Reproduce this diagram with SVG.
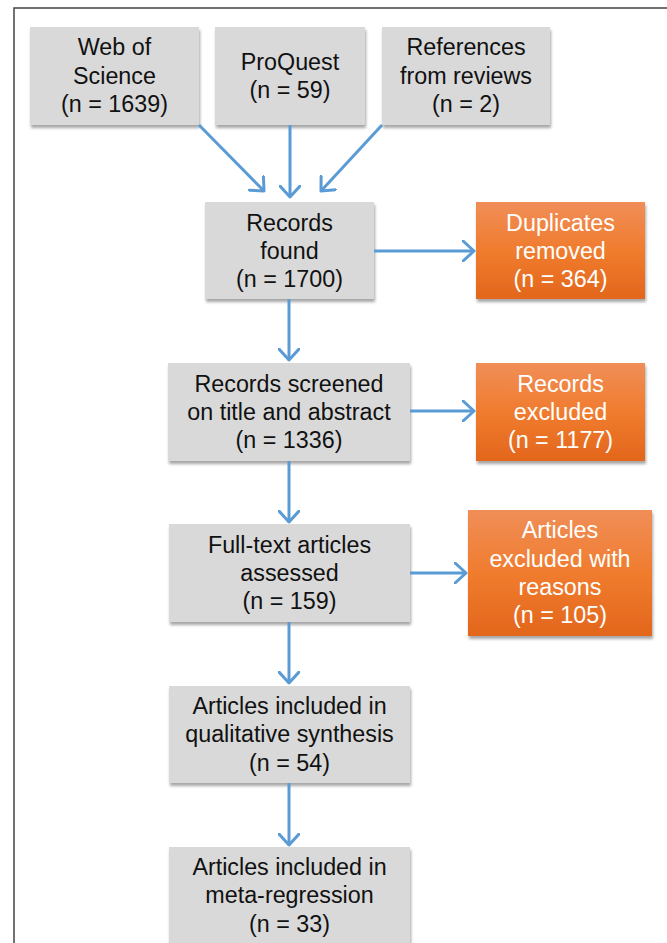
<svg xmlns="http://www.w3.org/2000/svg" width="667" height="943" viewBox="0 0 667 943">
<defs>
<linearGradient id="og" x1="0" y1="0" x2="0" y2="1">
<stop offset="0" stop-color="#f08e58"/>
<stop offset="0.5" stop-color="#f07c2e"/>
<stop offset="1" stop-color="#e3661c"/>
</linearGradient>
<filter id="sh" x="-10%" y="-10%" width="125%" height="130%">
<feDropShadow dx="1" dy="3" stdDeviation="1.5" flood-color="#000" flood-opacity="0.35"/>
</filter>
<marker id="ah" viewBox="0 0 14 22" refX="12" refY="11" markerWidth="14" markerHeight="22" markerUnits="userSpaceOnUse" orient="auto">
<path d="M1,1 L12,11 L1,21" fill="none" stroke="#5b9bd5" stroke-width="3" stroke-linecap="round" stroke-linejoin="round"/>
</marker>
</defs>
<style>
.g{fill:#d9d9d9;filter:url(#sh)}
.o{fill:url(#og);filter:url(#sh)}
text{font-family:"Liberation Sans",Arial,sans-serif;font-size:23.3px;text-anchor:middle}
.k{fill:#111}
.w{fill:#fff}
.c path,.c line{stroke:#5b9bd5;stroke-width:3;fill:none;marker-end:url(#ah)}
</style>
<rect width="667" height="943" fill="#fff"/>
<rect x="14" y="8" width="670" height="960" fill="none" stroke="#444" stroke-width="1.5"/>
<g id="wos"><rect class="g" x="30" y="27" width="169" height="98"/>
<text class="k" x="114.5" y="55">Web of</text><text class="k" x="114.5" y="84">Science</text><text class="k" x="114.5" y="112">(n = 1639)</text></g>
<g id="proquest"><rect class="g" x="215" y="27" width="150" height="98"/>
<text class="k" x="290" y="70">ProQuest</text><text class="k" x="290" y="98">(n = 59)</text></g>
<g id="refs"><rect class="g" x="382" y="27" width="168" height="98"/>
<text class="k" x="466" y="55">References</text><text class="k" x="466" y="84">from reviews</text><text class="k" x="466" y="112">(n = 2)</text></g>
<g id="found"><rect class="g" x="205" y="202" width="169" height="97"/>
<text class="k" x="289.5" y="231">Records</text><text class="k" x="289.5" y="259">found</text><text class="k" x="289.5" y="287">(n = 1700)</text></g>
<g id="dup"><rect class="o" x="476" y="202" width="169" height="97"/>
<text class="w" x="560.5" y="231">Duplicates</text><text class="w" x="560.5" y="259">removed</text><text class="w" x="560.5" y="287">(n = 364)</text></g>
<g id="screened"><rect class="g" x="168" y="363" width="242" height="98"/>
<text class="k" x="289" y="392">Records screened</text><text class="k" x="289" y="420">on title and abstract</text><text class="k" x="289" y="448">(n = 1336)</text></g>
<g id="excluded"><rect class="o" x="476" y="363" width="169" height="98"/>
<text class="w" x="560.5" y="392">Records</text><text class="w" x="560.5" y="420">excluded</text><text class="w" x="560.5" y="448">(n = 1177)</text></g>
<g id="fulltext"><rect class="g" x="169" y="524" width="241" height="98"/>
<text class="k" x="289.5" y="553">Full-text articles</text><text class="k" x="289.5" y="581">assessed</text><text class="k" x="289.5" y="609">(n = 159)</text></g>
<g id="artexcl"><rect class="o" x="468" y="510" width="184" height="126"/>
<text class="w" x="560" y="538">Articles</text><text class="w" x="560" y="567">excluded with</text><text class="w" x="560" y="595">reasons</text><text class="w" x="560" y="623">(n = 105)</text></g>
<g id="qual"><rect class="g" x="169" y="686" width="241" height="97"/>
<text class="k" x="289.5" y="714">Articles included in</text><text class="k" x="289.5" y="742">qualitative synthesis</text><text class="k" x="289.5" y="771">(n = 54)</text></g>
<g id="meta"><rect class="g" x="169" y="847" width="241" height="110"/>
<text class="k" x="289.5" y="875">Articles included in</text><text class="k" x="289.5" y="903">meta-regression</text><text class="k" x="289.5" y="932">(n = 33)</text></g>
<g id="connectors" class="c">
<line x1="199" y1="125" x2="264" y2="191"/>
<line x1="290" y1="125" x2="290" y2="197"/>
<line x1="382" y1="125" x2="321" y2="191"/>
<line x1="374" y1="251" x2="474" y2="251"/>
<line x1="289" y1="299" x2="289" y2="360"/>
<line x1="410" y1="411" x2="474" y2="411"/>
<line x1="289" y1="461" x2="289" y2="522"/>
<line x1="410" y1="573" x2="466" y2="573"/>
<line x1="289" y1="622" x2="289" y2="683"/>
<line x1="289" y1="783" x2="289" y2="845"/>
</g>
</svg>
